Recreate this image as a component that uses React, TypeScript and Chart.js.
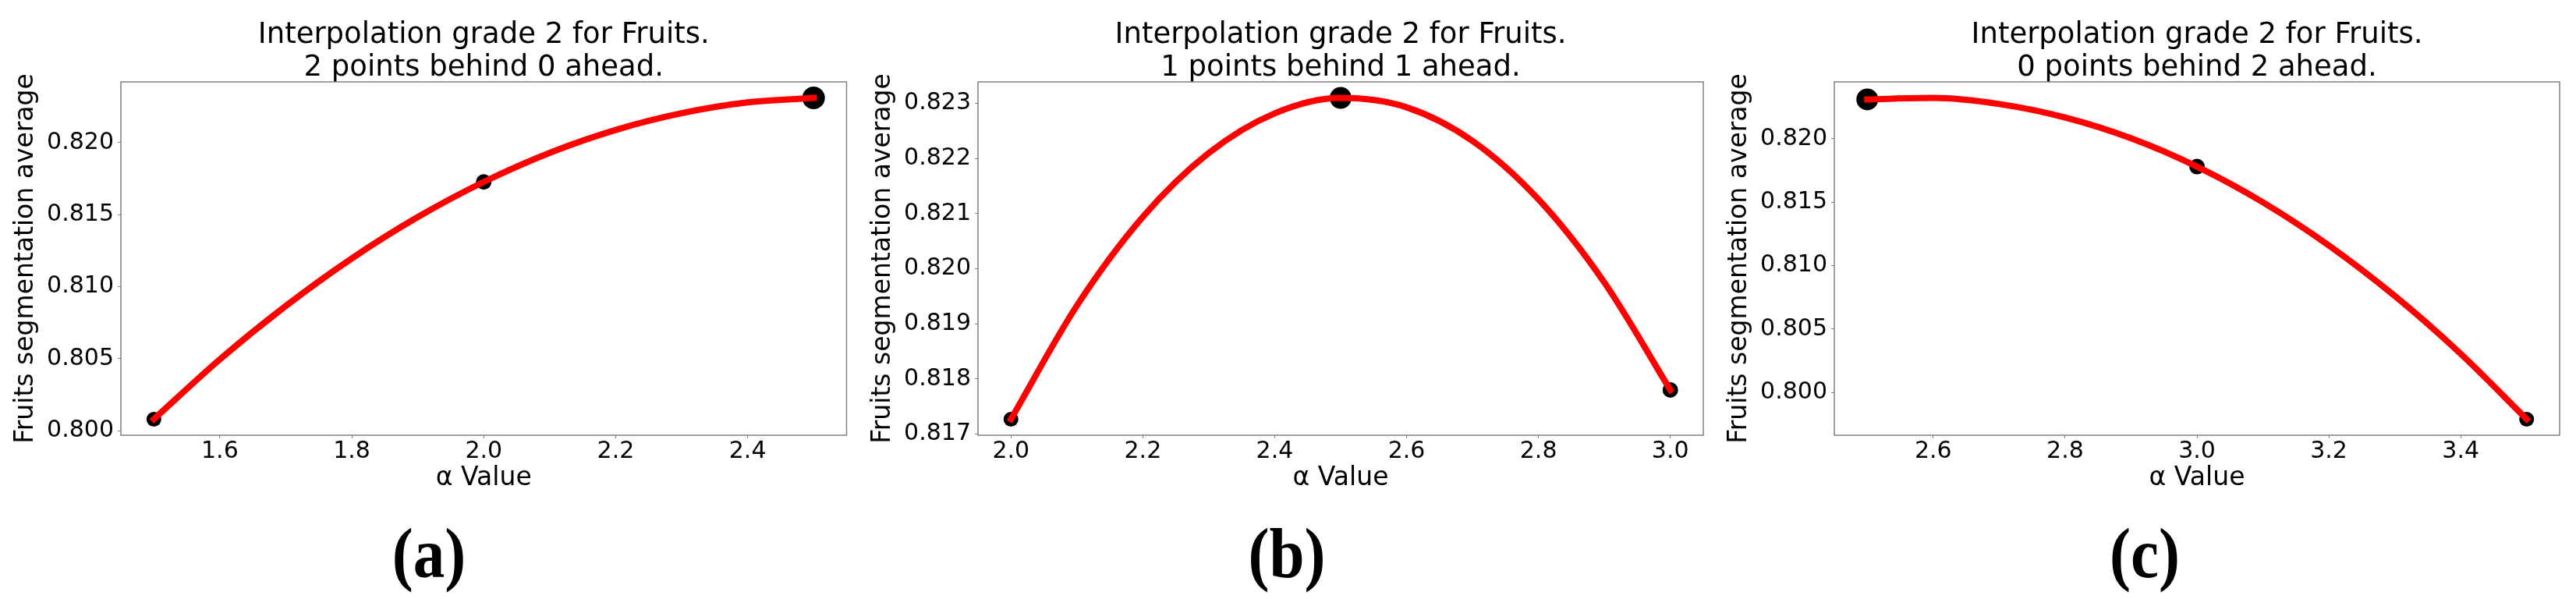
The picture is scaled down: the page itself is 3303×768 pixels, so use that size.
import React, { useEffect, useRef } from "react";
import { Chart, registerables } from "chart.js";

Chart.register(...registerables);

// ---------------- data ----------------
const panelTitles: string[][] = [
  ["Interpolation grade 2 for Fruits.", "2 points behind 0 ahead."],
  ["Interpolation grade 2 for Fruits.", "1 points behind 1 ahead."],
  ["Interpolation grade 2 for Fruits.", "0 points behind 2 ahead."],
];
const panelTags = ["(a)", "(b)", "(c)"];
const xAxisLabel = "α Value";
const yAxisLabel = "Fruits segmentation average";

// measured points (α, average)
const pointsAX = [1.5, 2.0, 2.5];
const pointsAY = [0.8008, 0.81727, 0.8231];
const pointsBX = [2.0, 2.5, 3.0];
const pointsBY = [0.81727, 0.8231, 0.8178];
const pointsCX = [2.5, 3.0, 3.5];
const pointsCY = [0.8231, 0.8178, 0.7979];

// red interpolation curves
const curveAX = [1.5, 1.6, 1.7, 1.8, 1.9, 2.0, 2.1, 2.2, 2.3, 2.4, 2.5];
const curveAY = [0.8008, 0.80495, 0.80866, 0.81196, 0.81483, 0.81727, 0.81929, 0.82088, 0.82204, 0.82279, 0.8231];
const curveBX = [2.0, 2.1, 2.2, 2.3, 2.4, 2.5, 2.6, 2.7, 2.8, 2.9, 3.0];
const curveBY = [0.81727, 0.81933, 0.82094, 0.8221, 0.82282, 0.8231, 0.82293, 0.82232, 0.82126, 0.81975, 0.8178];
const curveCX = [2.5, 2.6, 2.7, 2.8, 2.9, 3.0, 3.1, 3.2, 3.3, 3.4, 3.5];
const curveCY = [0.8231, 0.82321, 0.82273, 0.82167, 0.82003, 0.8178, 0.81499, 0.81159, 0.80761, 0.80305, 0.7979];

const yTickSteps = [0.005, 0.001, 0.005];
const xTickStep = 0.2;

// ---------------- styles / layout ----------------
const PANEL_W = 1100;
const CANVAS_H = 635;
const FONT = "'DejaVu Sans', sans-serif";
const axesLeft = [155, 154, 152];
const rightPad = [14, 16, 18];
const markerRadii = [
  [9.5, 10, 14.5],
  [9.5, 14, 10],
  [14, 10, 9.5],
];

const panels = [
  { px: pointsAX, py: pointsAY, cx: curveAX, cy: curveAY },
  { px: pointsBX, py: pointsBY, cx: curveBX, cy: curveBY },
  { px: pointsCX, py: pointsCY, cx: curveCX, cy: curveCY },
];

const boxPlugin = {
  id: "axesBox",
  afterDatasetsDraw(chart: any) {
    const { ctx, chartArea } = chart;
    const { left, top, right, bottom } = chartArea;
    ctx.save();
    ctx.strokeStyle = "#808080";
    ctx.lineWidth = 1.5;
    ctx.strokeRect(left, top, right - left, bottom - top);
    ctx.restore();
  },
};

function Panel({ index }: { index: number }) {
  const ref = useRef<HTMLCanvasElement | null>(null);

  useEffect(() => {
    const canvas = ref.current;
    if (!canvas) return;
    const p = panels[index];
    const xmin0 = Math.min(...p.cx);
    const xmax0 = Math.max(...p.cx);
    const xpad = 0.05 * (xmax0 - xmin0);
    const ys = p.cy.concat(p.py);
    const ymin0 = Math.min(...ys);
    const ymax0 = Math.max(...ys);
    const ypad = 0.05 * (ymax0 - ymin0);

    const chart = new Chart(canvas, {
      type: "scatter",
      data: {
        datasets: [
          {
            type: "line",
            data: p.cx.map((x, i) => ({ x, y: p.cy[i] })),
            borderColor: "#ff0000",
            backgroundColor: "#ff0000",
            borderWidth: 8,
            borderCapStyle: "square",
            pointRadius: 0,
            pointHoverRadius: 0,
            cubicInterpolationMode: "monotone",
            fill: false,
            order: 0,
          } as any,
          {
            type: "scatter",
            data: p.px.map((x, i) => ({ x, y: p.py[i] })),
            backgroundColor: "#000000",
            borderColor: "#000000",
            borderWidth: 0,
            pointRadius: markerRadii[index],
            pointHoverRadius: markerRadii[index],
            order: 1,
          } as any,
        ],
      },
      options: {
        animation: false,
        responsive: false,
        devicePixelRatio: 1,
        events: [],
        layout: { padding: { left: 0, right: rightPad[index], top: 0, bottom: 0 } },
        plugins: {
          legend: { display: false },
          tooltip: { enabled: false },
          title: {
            display: true,
            text: panelTitles[index],
            color: "#000",
            fullSize: false,
            font: { family: FONT, size: 37, weight: "normal", lineHeight: 42 / 37 },
            padding: { top: 24, bottom: -3 },
          },
        },
        scales: {
          x: {
            type: "linear",
            min: xmin0 - xpad,
            max: xmax0 + xpad,
            afterFit: (s: any) => {
              s.height = 77;
            },
            border: { display: false },
            grid: {
              display: true,
              drawOnChartArea: false,
              drawTicks: true,
              tickLength: 4,
              color: "#808080",
              lineWidth: 1,
            },
            ticks: {
              stepSize: xTickStep,
              includeBounds: false,
              autoSkip: false,
              maxRotation: 0,
              padding: 0,
              color: "#000",
              font: { family: FONT, size: 30, lineHeight: 1.15 },
              callback: (v: any) => Number(v).toFixed(1),
            },
            title: {
              display: true,
              text: xAxisLabel,
              color: "#000",
              font: { family: FONT, size: 33, lineHeight: 1.2 },
              padding: { top: 0, bottom: 2 },
            },
          },
          y: {
            type: "linear",
            min: ymin0 - ypad,
            max: ymax0 + ypad,
            afterFit: (s: any) => {
              s.width = axesLeft[index];
            },
            border: { display: false },
            grid: {
              display: true,
              drawOnChartArea: false,
              drawTicks: true,
              tickLength: 4,
              color: "#808080",
              lineWidth: 1,
            },
            ticks: {
              stepSize: yTickSteps[index],
              includeBounds: false,
              autoSkip: false,
              padding: 5,
              color: "#000",
              font: { family: FONT, size: 30, lineHeight: 1.15 },
              callback: (v: any) => Number(v).toFixed(3),
            },
            title: {
              display: true,
              text: yAxisLabel,
              color: "#000",
              font: { family: FONT, size: 33, lineHeight: 1.2 },
              padding: { top: 14 + (axesLeft[index] - 155), bottom: 0 },
            },
          },
        },
      } as any,
      plugins: [boxPlugin],
    });

    return () => {
      chart.destroy();
    };
  }, [index]);

  return (
    <>
      <canvas
        ref={ref}
        width={PANEL_W}
        height={CANVAS_H}
        style={{
          position: "absolute",
          left: index * PANEL_W,
          top: 0,
          width: PANEL_W,
          height: CANVAS_H,
          display: "block",
        }}
      />
      <div
        style={{
          position: "absolute",
          left: index * PANEL_W,
          top: 665,
          width: PANEL_W,
          textAlign: "center",
          fontFamily: "'Liberation Serif', serif",
          fontWeight: "bold",
          fontSize: 90,
          lineHeight: "90px",
          color: "#000",
          transform: "scaleX(0.9)",
        }}
      >
        {panelTags[index]}
      </div>
    </>
  );
}

export default function App() {
  return (
    <div
      style={{
        position: "absolute",
        left: 0,
        top: 0,
        width: 3303,
        height: 768,
        background: "#ffffff",
        overflow: "hidden",
      }}
    >
      {[0, 1, 2].map((i) => (
        <Panel key={i} index={i} />
      ))}
    </div>
  );
}
